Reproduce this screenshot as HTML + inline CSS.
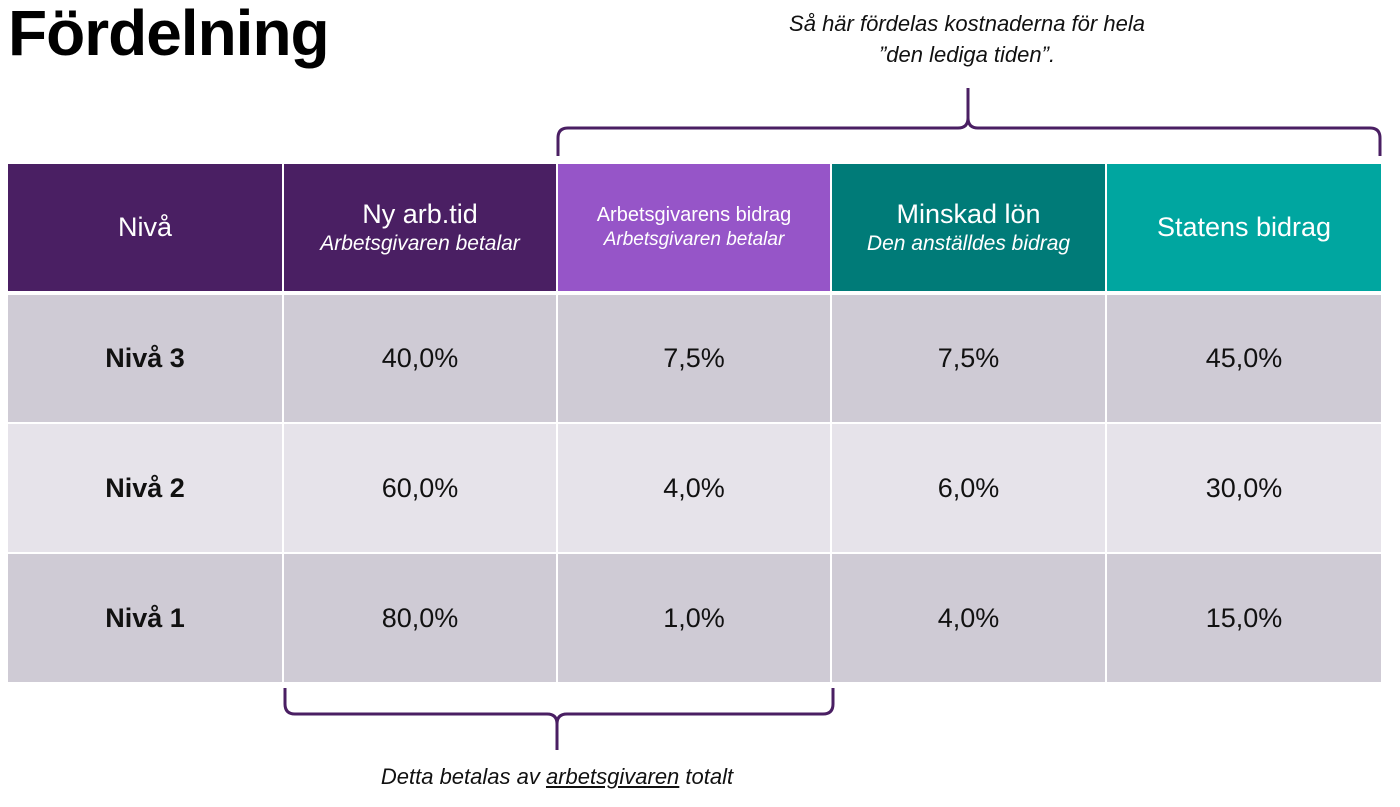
<!DOCTYPE html>
<html><head><meta charset="utf-8"><style>
body{margin:0;width:1400px;height:807px;background:#fff;position:relative;overflow:hidden;font-family:"Liberation Sans",sans-serif}
.c{position:absolute;display:flex;flex-direction:column;align-items:center;justify-content:center;text-align:center;box-sizing:border-box}
.h{color:#fff}
.t{color:#111;font-size:27px}
.b{font-weight:bold}
i{font-size:21px;margin-top:2px}
</style></head><body>
<div style="position:absolute;left:8px;top:-4px;font-size:64px;font-weight:bold;color:#000;letter-spacing:-1px">Fördelning</div>
<div style="position:absolute;left:667px;top:8px;width:600px;text-align:center;font-style:italic;font-size:22px;line-height:31px;color:#111">Så här fördelas kostnaderna för hela<br>”den lediga tiden”.</div>
<div style="position:absolute;left:257px;top:764px;width:600px;text-align:center;font-style:italic;font-size:22px;color:#111">Detta betalas av <u>arbetsgivaren</u> totalt</div>
<svg style="position:absolute;left:0;top:0" width="1400" height="807">
<path d="M558 156 V138 Q558 128 568 128 H958 Q968 128 968 118 V88 M968 118 Q968 128 978 128 H1370 Q1380 128 1380 138 V156" fill="none" stroke="#4a1f63" stroke-width="3"/>
<path d="M285 688 V704 Q285 714 295 714 H547 Q557 714 557 724 V750 M557 724 Q557 714 567 714 H823 Q833 714 833 704 V688" fill="none" stroke="#4a1f63" stroke-width="3"/>
</svg>
<div class="c h" style="left:8px;top:164px;width:274px;height:127px;background:#4a1f63;font-size:27px">Nivå</div>
<div class="c h" style="left:284px;top:164px;width:272px;height:127px;background:#4a1f63;font-size:27px">Ny arb.tid<i>Arbetsgivaren betalar</i></div>
<div class="c h" style="left:558px;top:164px;width:272px;height:127px;background:#9655c8;font-size:20px">Arbetsgivarens bidrag<i style="font-size:19px">Arbetsgivaren betalar</i></div>
<div class="c h" style="left:832px;top:164px;width:273px;height:127px;background:#007b78;font-size:27px">Minskad lön<i>Den anställdes bidrag</i></div>
<div class="c h" style="left:1107px;top:164px;width:274px;height:127px;background:#00a6a0;font-size:27px">Statens bidrag</div>
<div id="rows"></div>
<script>
var d=[["Nivå 3","40,0%","7,5%","7,5%","45,0%"],["Nivå 2","60,0%","4,0%","6,0%","30,0%"],["Nivå 1","80,0%","1,0%","4,0%","15,0%"]];
var xs=[[8,274],[284,272],[558,272],[832,273],[1107,274]],ys=[[295,127],[424,128],[554,128]];
var h="";d.forEach(function(r,i){r.forEach(function(v,j){h+='<div class="c t'+(j==0?' b':'')+'" style="left:'+xs[j][0]+'px;top:'+ys[i][0]+'px;width:'+xs[j][1]+'px;height:'+ys[i][1]+'px;background:'+(i==1?'#e6e3ea':'#cfcbd5')+'">'+v+'</div>';});});
document.getElementById("rows").innerHTML=h;
</script>
</body></html>
